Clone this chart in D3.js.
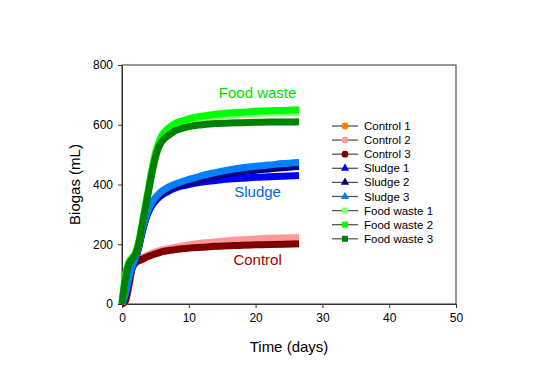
<!doctype html>
<html lang='en'>
<head>
<meta charset='UTF-8'>
<title>Biogas</title>
<style>
  body { margin: 0; background: #fff; }
  svg { font-family: 'Liberation Sans', Arial, sans-serif; }
  .tick text { font-size: 12px; fill: #000; }
  .domain, .tick line { stroke: #333; }
</style>
</head>
<body>
<script src='https://d3js.org/d3.v7.min.js'></script>
<script>
  const days = [0, 0.5, 1, 1.5, 2, 2.5, 3, 3.5, 4, 4.5, 5, 5.5, 6, 7, 8, 9, 10, 12, 14, 16, 18, 20, 22, 24, 26.5]

  const control1 = [0, 8, 55, 115, 136, 144, 148, 156, 162, 166, 170, 173, 176, 181, 185, 188, 190, 193, 195, 197, 198, 199, 200, 201, 202]
  const control2 = [0, 12, 65, 125, 142, 150, 155, 160, 166, 170, 175, 178, 181, 186, 190, 194, 198, 204, 208, 212, 215, 218, 220, 221, 222]
  const control3 = [0, 10, 60, 120, 138, 145, 150, 155, 160, 164, 168, 171, 175, 179, 182, 185, 187, 190, 193, 195, 197, 198, 199, 200, 202]
  const sludge1 = [0, 30, 80, 120, 150, 190, 240, 280, 310, 330, 345, 356, 365, 378, 388, 395, 400, 408, 413, 418, 421, 424, 426, 428, 430]
  const sludge2 = [0, 30, 80, 120, 150, 190, 240, 282, 312, 333, 348, 360, 370, 383, 393, 400, 406, 418, 428, 436, 443, 448, 452, 456, 460]
  const sludge3 = [0, 32, 84, 124, 154, 194, 244, 286, 318, 340, 356, 368, 378, 392, 402, 410, 417, 430, 440, 449, 456, 461, 465, 470, 474]
  const food1 = [0, 90, 135, 152, 168, 205, 262, 325, 388, 450, 500, 536, 558, 582, 598, 608, 614, 622, 628, 632, 635, 637, 639, 640, 641]
  const food2 = [0, 95, 138, 155, 170, 208, 265, 328, 390, 452, 505, 540, 565, 590, 605, 613, 620, 629, 635, 639, 642, 645, 647, 648, 650]
  const food3 = [0, 80, 130, 150, 165, 200, 260, 320, 380, 440, 490, 525, 545, 565, 580, 588, 594, 600, 604, 606, 607, 608, 609, 609, 610]

  const seriesNames = ['Control 1', 'Control 2', 'Control 3', 'Sludge 1', 'Sludge 2', 'Sludge 3', 'Food waste 1', 'Food waste 2', 'Food waste 3']
  const seriesValues = [control1, control2, control3, sludge1, sludge2, sludge3, food1, food2, food3]
  const seriesColors = ['#ff8000', '#ff9999', '#800000', '#0000ff', '#000080', '#0080ff', '#80ff80', '#00ff00', '#008000']
  const seriesMarkers = ['circle', 'circle', 'circle', 'triangle', 'triangle', 'triangle', 'square', 'square', 'square']

  const groupLabels = [
    { text: 'Food waste', x: 20.3, y: 690, color: '#00dd00' },
    { text: 'Sludge', x: 20.3, y: 357, color: '#0066dd' },
    { text: 'Control', x: 20.3, y: 130, color: '#b00000' }
  ]

  const xTicks = [0, 10, 20, 30, 40, 50]
  const yTicks = [0, 200, 400, 600, 800]

  const W = 534, H = 384
  const margin = { top: 65, right: 78, bottom: 80, left: 122 }
  const w = W - margin.left - margin.right
  const h = H - margin.top - margin.bottom

  const svg = d3.select('body').append('svg')
    .attr('width', W)
    .attr('height', H)

  const g = svg.append('g')
    .attr('transform', `translate(${margin.left}, ${margin.top})`)

  const x = d3.scaleLinear().domain([0, 50]).range([0, w])
  const y = d3.scaleLinear().domain([0, 800]).range([h, 0])

  // frame
  g.append('rect')
    .attr('width', w).attr('height', h)
    .attr('fill', 'none').attr('stroke', '#333')

  g.append('g')
    .attr('transform', `translate(0, ${h})`)
    .call(d3.axisBottom(x).tickValues(xTicks).tickSizeInner(4).tickSizeOuter(0).tickPadding(5))

  g.append('g')
    .call(d3.axisLeft(y).tickValues(yTicks).tickSizeInner(4).tickSizeOuter(0).tickPadding(5))

  const line = d3.line()
    .x((d, i) => x(days[i]))
    .y(d => y(d))
    .curve(d3.curveMonotoneX)

  g.append('g').selectAll('path')
    .data(seriesValues)
    .enter()
    .append('path')
    .attr('d', d => line(d))
    .attr('fill', 'none')
    .attr('stroke', (d, i) => seriesColors[i])
    .attr('stroke-width', 7)
    .attr('stroke-linejoin', 'round')

  g.selectAll('text.group')
    .data(groupLabels)
    .enter()
    .append('text')
    .attr('class', 'group')
    .attr('x', d => x(d.x))
    .attr('y', d => y(d.y))
    .attr('text-anchor', 'middle')
    .attr('font-size', 15)
    .attr('fill', d => d.color)
    .text(d => d.text)

  // axis titles
  svg.append('text')
    .attr('x', margin.left + x(25))
    .attr('y', 352)
    .attr('text-anchor', 'middle')
    .attr('font-size', 15)
    .text('Time (days)')

  svg.append('text')
    .attr('transform', `translate(80, ${margin.top + h / 2}) rotate(-90)`)
    .attr('text-anchor', 'middle')
    .attr('font-size', 15)
    .text('Biogas (mL)')

  // legend
  const legend = svg.append('g')
    .attr('transform', 'translate(332, 126)')

  const rows = legend.selectAll('g')
    .data(seriesNames)
    .enter()
    .append('g')
    .attr('transform', (d, i) => `translate(0, ${i * 14.1})`)

  rows.append('line')
    .attr('x1', 0).attr('x2', 26)
    .attr('stroke', '#555').attr('stroke-width', 1.3)

  rows.append('path')
    .attr('transform', 'translate(13, 0)')
    .attr('d', (d, i) => {
      const m = seriesMarkers[i]
      const type = m === 'circle' ? d3.symbolCircle : m === 'triangle' ? d3.symbolTriangle : d3.symbolSquare
      return d3.symbol().type(type).size(m === 'triangle' ? 30 : 36)()
    })
    .attr('fill', (d, i) => seriesColors[i])

  rows.append('text')
    .attr('x', 32)
    .attr('dy', '0.35em')
    .attr('font-size', 11.5)
    .text(d => d)
</script>
</body>
</html>
